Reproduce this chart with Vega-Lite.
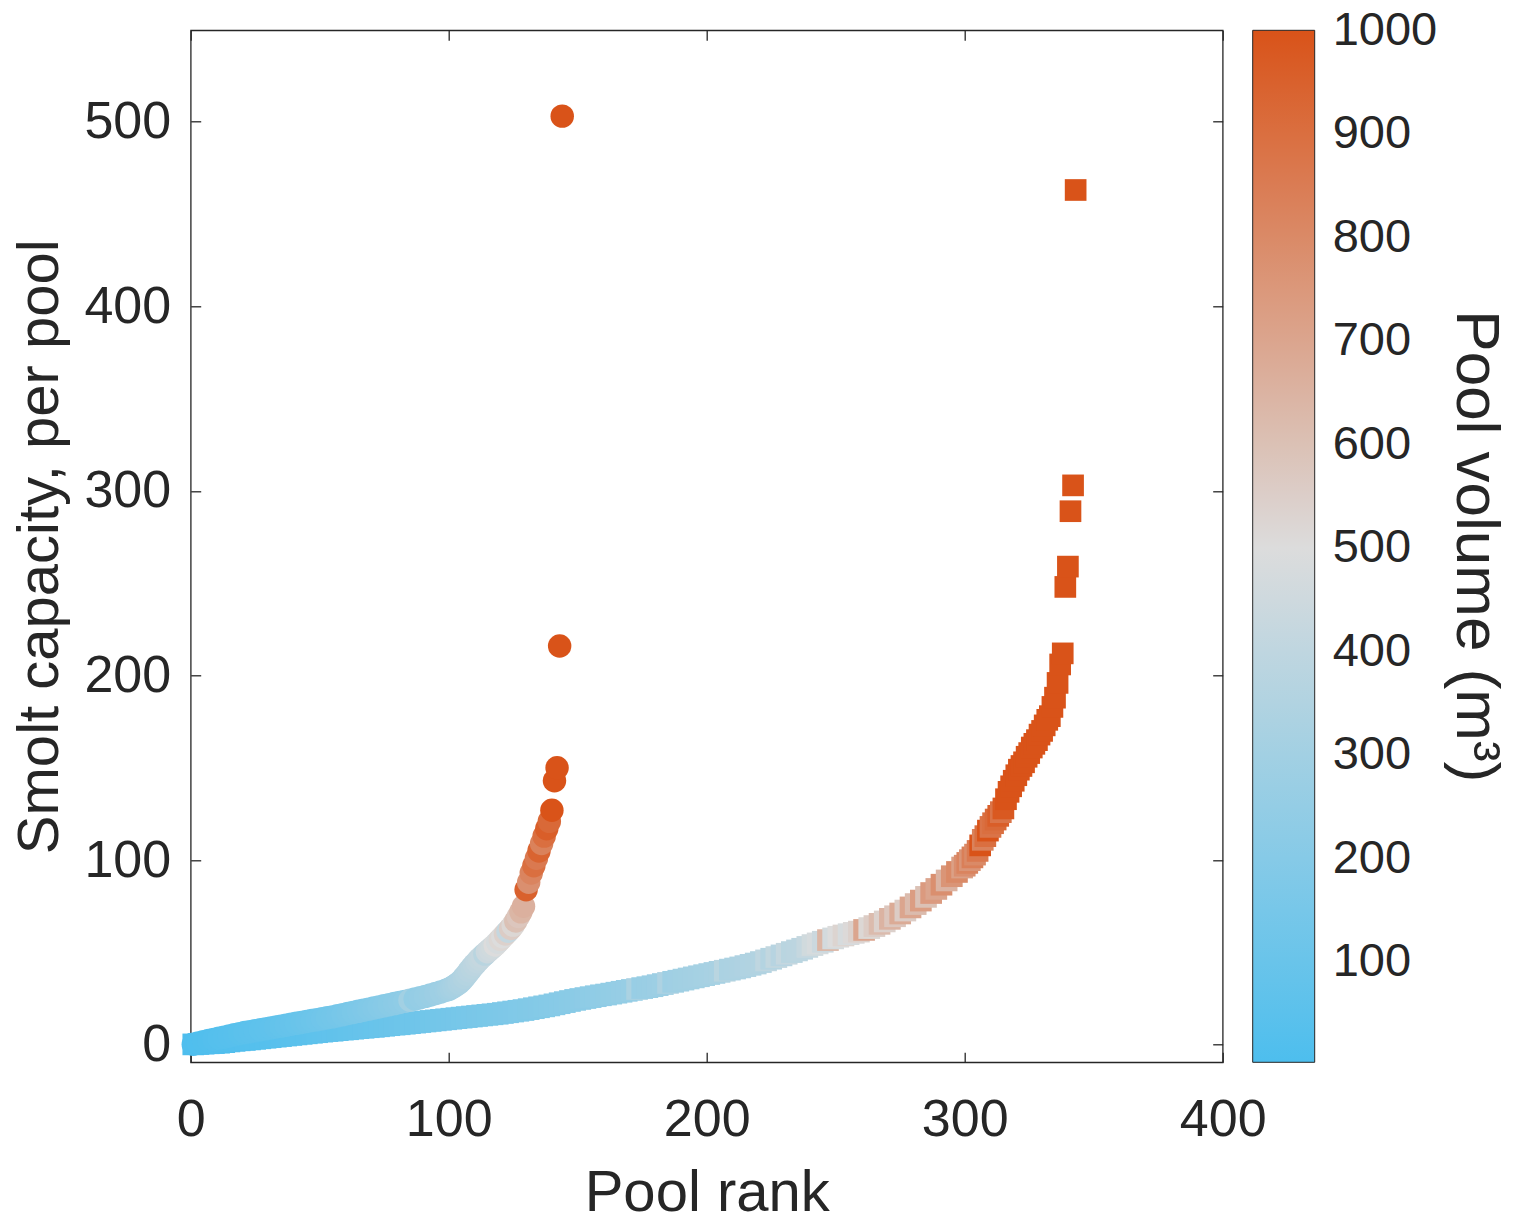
{
 "$schema": "https://vega.github.io/schema/vega-lite/v6.json",
 "width": 1032,
 "height": 1032,
 "autosize": {"type": "none"},
 "padding": {"left": 190.7, "top": 30.3, "right": 302.3, "bottom": 157.7},
 "background": "white",
 "config": {
  "font": "Liberation Sans",
  "view": {"stroke": "#262626", "strokeWidth": 1.3},
  "axis": {"domain": false, "grid": false, "tickColor": "#262626", "tickWidth": 1.3, "tickSize": -10, "labelColor": "#262626", "labelFontSize": 52, "labelFont": "Liberation Sans", "titleColor": "#262626", "titleFontSize": 58, "titleFontWeight": "normal", "titleFont": "Liberation Sans", "labelFlush": false, "labelOverlap": false},
  "legend": {"orient": "right", "offset": 29.3, "padding": 0, "gradientLength": 1032, "gradientThickness": 62, "gradientStrokeColor": "#262626", "gradientStrokeWidth": 1, "labelFontSize": 47, "labelColor": "#262626", "labelFont": "Liberation Sans", "titleFontSize": 62, "titleColor": "#262626", "titleFontWeight": "normal", "titleFont": "Liberation Sans", "titleOrient": "right", "titleAngle": 90, "titleAnchor": "middle", "titlePadding": 6, "titleLimit": 1000, "labelOverlap": false}
 },
 "datasets": {
  "sq": [
   {"r":1,"c":0.2,"v":5},{"r":3,"c":0.4,"v":8},{"r":5,"c":0.6,"v":10},{"r":7,"c":0.8,"v":12},{"r":9,"c":0.9,"v":14},
   {"r":11,"c":1.1,"v":16},{"r":13,"c":1.4,"v":18},{"r":15,"c":1.8,"v":20},{"r":17,"c":2.1,"v":22},{"r":19,"c":2.4,"v":24},
   {"r":21,"c":2.6,"v":26},{"r":23,"c":2.9,"v":28},{"r":25,"c":3.2,"v":30},{"r":27,"c":3.5,"v":32},{"r":29,"c":3.8,"v":34},
   {"r":31,"c":4.1,"v":36},{"r":33,"c":4.4,"v":38},{"r":35,"c":4.7,"v":41},{"r":37,"c":5.0,"v":44},{"r":39,"c":5.3,"v":47},
   {"r":41,"c":5.6,"v":50},{"r":43,"c":5.9,"v":53},{"r":45,"c":6.2,"v":56},{"r":47,"c":6.5,"v":59},{"r":49,"c":6.8,"v":62},
   {"r":51,"c":7.1,"v":65},{"r":53,"c":7.4,"v":68},{"r":55,"c":7.6,"v":71},{"r":57,"c":7.9,"v":74},{"r":59,"c":8.2,"v":77},
   {"r":61,"c":8.4,"v":80},{"r":63,"c":8.7,"v":83},{"r":65,"c":9.0,"v":86},{"r":67,"c":9.2,"v":89},{"r":69,"c":9.5,"v":92},
   {"r":71,"c":9.7,"v":95},{"r":73,"c":10.0,"v":98},{"r":75,"c":10.3,"v":101},{"r":77,"c":10.6,"v":104},{"r":79,"c":10.9,"v":107},
   {"r":81,"c":11.1,"v":110},{"r":83,"c":11.4,"v":113},{"r":85,"c":11.7,"v":116},{"r":87,"c":12.0,"v":119},{"r":89,"c":12.3,"v":122},
   {"r":91,"c":12.6,"v":125},{"r":93,"c":12.9,"v":128},{"r":95,"c":13.2,"v":131},{"r":97,"c":13.5,"v":134},{"r":99,"c":13.8,"v":137},
   {"r":101,"c":14.1,"v":140},{"r":103,"c":14.4,"v":143},{"r":105,"c":14.7,"v":146},{"r":107,"c":15.0,"v":149},{"r":109,"c":15.3,"v":152},
   {"r":111,"c":15.6,"v":155},{"r":113,"c":15.9,"v":158},{"r":115,"c":16.2,"v":161},{"r":117,"c":16.5,"v":164},{"r":119,"c":16.8,"v":167},
   {"r":121,"c":17.2,"v":170},{"r":123,"c":17.6,"v":173},{"r":125,"c":18.0,"v":176},{"r":127,"c":18.4,"v":179},{"r":129,"c":18.8,"v":182},
   {"r":131,"c":19.3,"v":185},{"r":133,"c":19.8,"v":188},{"r":135,"c":20.3,"v":191},{"r":137,"c":20.8,"v":194},{"r":139,"c":21.3,"v":197},
   {"r":141,"c":21.9,"v":200},{"r":143,"c":22.5,"v":204},{"r":145,"c":23.1,"v":208},{"r":147,"c":23.7,"v":212},{"r":149,"c":24.3,"v":216},
   {"r":151,"c":24.8,"v":220},{"r":153,"c":25.3,"v":224},{"r":155,"c":25.8,"v":228},{"r":157,"c":26.3,"v":232},{"r":159,"c":26.8,"v":236},
   {"r":161,"c":27.2,"v":240},{"r":163,"c":27.7,"v":244},{"r":165,"c":28.2,"v":248},{"r":167,"c":28.7,"v":252},{"r":169,"c":29.2,"v":256},
   {"r":171,"c":29.7,"v":260},{"r":173,"c":30.2,"v":330},{"r":175,"c":30.7,"v":265},{"r":177,"c":31.2,"v":268},{"r":179,"c":31.7,"v":272},
   {"r":181,"c":32.3,"v":276},{"r":183,"c":32.9,"v":280},{"r":185,"c":33.5,"v":340},{"r":187,"c":34.1,"v":286},{"r":189,"c":34.7,"v":290},
   {"r":191,"c":35.3,"v":294},{"r":193,"c":35.9,"v":298},{"r":195,"c":36.5,"v":302},{"r":197,"c":37.1,"v":306},{"r":199,"c":37.7,"v":310},
   {"r":201,"c":38.3,"v":314},{"r":203,"c":38.9,"v":318},{"r":205,"c":39.5,"v":322},{"r":207,"c":40.1,"v":380},{"r":209,"c":40.7,"v":330},
   {"r":211,"c":41.3,"v":334},{"r":213,"c":41.9,"v":338},{"r":215,"c":42.6,"v":342},{"r":217,"c":43.3,"v":346},{"r":219,"c":44.0,"v":350},
   {"r":221,"c":44.8,"v":354},{"r":223,"c":45.7,"v":400},{"r":225,"c":46.6,"v":362},{"r":227,"c":47.5,"v":410},{"r":229,"c":48.4,"v":370},
   {"r":231,"c":49.3,"v":420},{"r":233,"c":50.2,"v":380},{"r":235,"c":51.1,"v":385},{"r":237,"c":52.0,"v":390},{"r":239,"c":53.0,"v":420},
   {"r":241,"c":54.0,"v":460},{"r":243,"c":54.9,"v":480},{"r":245,"c":55.8,"v":440},{"r":247,"c":56.7,"v":640},{"r":249,"c":57.6,"v":470},
   {"r":251,"c":58.5,"v":500},{"r":253,"c":59.2,"v":530},{"r":255,"c":59.9,"v":480},{"r":257,"c":60.6,"v":510},{"r":259,"c":61.3,"v":540},
   {"r":261,"c":62.2,"v":700},{"r":263,"c":63.2,"v":520},{"r":265,"c":64.3,"v":560},{"r":267,"c":65.5,"v":620},{"r":269,"c":66.8,"v":540},
   {"r":271,"c":68.2,"v":650},{"r":273,"c":69.6,"v":580},{"r":275,"c":71.1,"v":680},{"r":277,"c":72.7,"v":560},{"r":279,"c":74.4,"v":700},
   {"r":281,"c":76.2,"v":620},{"r":283,"c":78.1,"v":730},{"r":285,"c":80.1,"v":600},{"r":287,"c":82.2,"v":740},{"r":289,"c":84.4,"v":700},
   {"r":291,"c":86.7,"v":780},{"r":293,"c":89.0,"v":650},{"r":295,"c":91.3,"v":760},{"r":297,"c":93.6,"v":800},{"r":299,"c":96.0,"v":720},
   {"r":300,"c":97.0,"v":780},{"r":301,"c":98.5,"v":820},{"r":302,"c":100.0,"v":760},{"r":303,"c":101.5,"v":840},{"r":304,"c":103.0,"v":800},
   {"r":305,"c":105.0,"v":860},{"r":306,"c":108.0,"v":1000},{"r":307,"c":111.0,"v":830},{"r":308,"c":113.0,"v":900},{"r":309,"c":116.0,"v":1020},
   {"r":310,"c":118.0,"v":880},{"r":311,"c":120.0,"v":900},{"r":312,"c":122.0,"v":920},{"r":313,"c":124.0,"v":960},{"r":314,"c":126.0,"v":880},
   {"r":315,"c":128.0,"v":980},{"r":316,"c":133.0,"v":1010},{"r":317,"c":137.0,"v":1050},{"r":318,"c":140.0,"v":1080},{"r":319,"c":143.0,"v":1100},
   {"r":320,"c":146.0,"v":1120},{"r":321,"c":149.0,"v":1150},{"r":322,"c":151.0,"v":1170},{"r":323,"c":153.0,"v":1200},{"r":324,"c":156.0,"v":1230},
   {"r":325,"c":158.0,"v":1260},{"r":326,"c":161.0,"v":1290},{"r":327,"c":163.0,"v":1320},{"r":328,"c":165.0,"v":1350},{"r":329,"c":168.0,"v":1380},
   {"r":330,"c":170.0,"v":1410},{"r":331,"c":173.0,"v":1440},{"r":332,"c":176.0,"v":1470},{"r":333,"c":178.0,"v":1500},{"r":334,"c":183.0,"v":1540},
   {"r":335,"c":188.0,"v":1580},{"r":336,"c":196.0,"v":1620},{"r":337,"c":206.0,"v":1660},{"r":338,"c":212.0,"v":1700},{"r":339,"c":248.0,"v":1800},
   {"r":340,"c":259.0,"v":1850},{"r":341,"c":289.0,"v":1900},{"r":342,"c":303.0,"v":1950},{"r":343,"c":463.0,"v":2500}
  ],
  "ci": [
   {"r":1,"c":0.3,"v":10},{"r":3,"c":1.0,"v":14},{"r":5,"c":1.6,"v":18},{"r":7,"c":2.3,"v":22},{"r":9,"c":2.9,"v":26},
   {"r":11,"c":3.5,"v":30},{"r":13,"c":4.1,"v":34},{"r":15,"c":4.8,"v":38},{"r":17,"c":5.4,"v":42},{"r":19,"c":6.0,"v":46},
   {"r":21,"c":6.6,"v":50},{"r":23,"c":7.1,"v":54},{"r":25,"c":7.6,"v":58},{"r":27,"c":8.1,"v":62},{"r":29,"c":8.6,"v":66},
   {"r":31,"c":9.1,"v":70},{"r":33,"c":9.6,"v":75},{"r":35,"c":10.1,"v":80},{"r":37,"c":10.6,"v":85},{"r":39,"c":11.1,"v":90},
   {"r":41,"c":11.6,"v":95},{"r":43,"c":12.1,"v":100},{"r":45,"c":12.6,"v":106},{"r":47,"c":13.1,"v":112},{"r":49,"c":13.6,"v":118},
   {"r":51,"c":14.1,"v":124},{"r":53,"c":14.6,"v":130},{"r":55,"c":15.1,"v":136},{"r":57,"c":15.7,"v":142},{"r":59,"c":16.3,"v":148},
   {"r":61,"c":16.9,"v":155},{"r":63,"c":17.5,"v":162},{"r":65,"c":18.1,"v":169},{"r":67,"c":18.7,"v":176},{"r":69,"c":19.3,"v":183},
   {"r":71,"c":19.9,"v":190},{"r":73,"c":20.5,"v":197},{"r":75,"c":21.1,"v":204},{"r":77,"c":21.7,"v":211},{"r":79,"c":22.3,"v":218},
   {"r":81,"c":22.9,"v":225},{"r":83,"c":23.5,"v":232},{"r":85,"c":24.1,"v":300},{"r":87,"c":24.8,"v":245},{"r":89,"c":25.5,"v":252},
   {"r":91,"c":26.2,"v":260},{"r":93,"c":27.0,"v":268},{"r":95,"c":27.8,"v":276},{"r":97,"c":28.6,"v":284},{"r":99,"c":29.5,"v":292},
   {"r":100,"c":30.0,"v":300},{"r":101,"c":30.8,"v":308},{"r":102,"c":31.6,"v":316},{"r":103,"c":32.5,"v":324},{"r":104,"c":33.5,"v":332},
   {"r":105,"c":34.8,"v":340},{"r":106,"c":36.5,"v":350},{"r":107,"c":38.2,"v":360},{"r":108,"c":40.0,"v":370},{"r":109,"c":41.8,"v":380},
   {"r":110,"c":43.4,"v":390},{"r":111,"c":45.0,"v":400},{"r":112,"c":46.5,"v":410},{"r":113,"c":47.8,"v":420},{"r":114,"c":49.1,"v":380},
   {"r":115,"c":50.4,"v":440},{"r":116,"c":51.6,"v":450},{"r":117,"c":52.8,"v":460},{"r":118,"c":54.0,"v":500},{"r":119,"c":55.5,"v":480},
   {"r":120,"c":57.0,"v":520},{"r":121,"c":58.5,"v":500},{"r":122,"c":60.0,"v":540},{"r":123,"c":61.5,"v":420},{"r":124,"c":63.0,"v":560},
   {"r":125,"c":64.8,"v":520},{"r":126,"c":67.0,"v":600},{"r":127,"c":69.5,"v":580},{"r":128,"c":72.0,"v":640},{"r":129,"c":75.0,"v":660},
   {"r":130,"c":84.0,"v":950},{"r":131,"c":88.0,"v":780},{"r":132,"c":93.0,"v":820},{"r":133,"c":97.0,"v":900},{"r":134,"c":101.0,"v":860},
   {"r":135,"c":105.0,"v":940},{"r":136,"c":109.0,"v":830},{"r":137,"c":113.0,"v":900},{"r":138,"c":117.0,"v":960},{"r":139,"c":121.0,"v":920},
   {"r":140,"c":127.0,"v":1050},{"r":141,"c":143.0,"v":1100},{"r":142,"c":150.0,"v":1150},{"r":143,"c":216.0,"v":1300},{"r":144,"c":503.0,"v":2000}
  ]
 },
 "layer": [
  {
   "data": {"name": "sq"},
   "mark": {"type": "point", "shape": "square", "filled": true, "size": 470, "opacity": 1, "strokeWidth": 0},
   "encoding": {
    "x": {"field": "r", "type": "quantitative", "scale": {"domain": [0, 400], "nice": false, "zero": false},
          "axis": {"orient": "bottom", "values": [0, 100, 200, 300, 400], "title": "Pool rank", "labelPadding": 42, "labelBaseline": "top", "titleX": 516, "titleY": 148.5, "titleBaseline": "alphabetic", "titleAlign": "center"}},
    "y": {"field": "c", "type": "quantitative", "scale": {"domain": [-9.5, 549.5], "nice": false, "zero": false},
          "axis": {"orient": "left", "values": [0, 100, 200, 300, 400, 500], "title": "Smolt capacity, per pool", "labelPadding": 30, "titleX": -133.7, "titleY": 516, "titleAngle": -90, "titleBaseline": "alphabetic", "titleAlign": "center"}},
    "color": {"field": "v", "type": "quantitative",
              "scale": {"domain": [3, 500, 1000.6], "range": ["#4DBEEE", "#DCDCDC", "#D95319"], "clamp": true, "interpolate": "rgb"},
              "legend": {"type": "gradient", "direction": "vertical", "values": [100, 200, 300, 400, 500, 600, 700, 800, 900, 1000], "format": "d", "title": "Pool volume (m³)", "labelAlign": "left", "labelBaseline": "middle", "labelOffset": 18}}
   }
  },
  {
   "data": {"name": "ci"},
   "mark": {"type": "circle", "size": 550, "opacity": 1, "strokeWidth": 0},
   "encoding": {
    "x": {"field": "r", "type": "quantitative", "axis": {"orient": "top", "values": [0, 100, 200, 300, 400], "labels": false, "title": null}},
    "y": {"field": "c", "type": "quantitative", "axis": {"orient": "right", "values": [0, 100, 200, 300, 400, 500], "labels": false, "title": null}},
    "color": {"field": "v", "type": "quantitative",
              "legend": {"type": "gradient", "direction": "vertical", "values": [100, 200, 300, 400, 500, 600, 700, 800, 900, 1000], "format": "d", "title": "Pool volume (m³)", "labelAlign": "left", "labelBaseline": "middle", "labelOffset": 18}}
   }
  }
 ],
 "resolve": {"axis": {"x": "independent", "y": "independent"}}
}
